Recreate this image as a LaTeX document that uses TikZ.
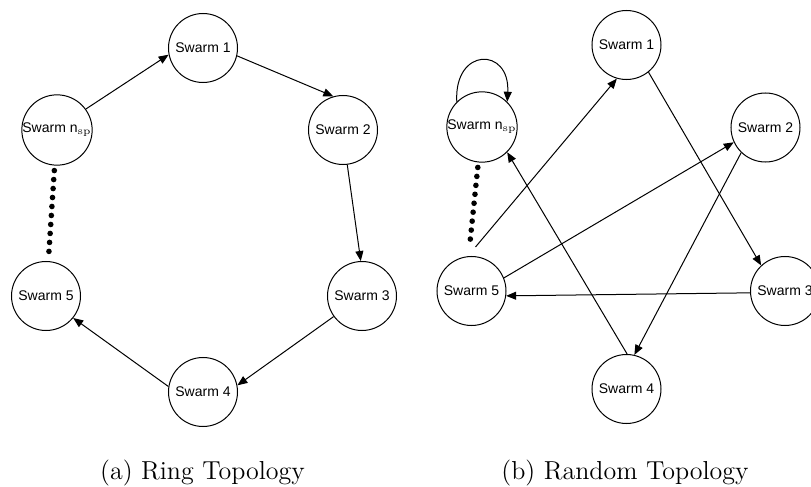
\documentclass[tikz,border=0pt]{standalone}
\usepackage{fontspec}
\newfontfamily\swarmfont{Liberation Sans}
\usetikzlibrary{arrows.meta,positioning,calc}

\begin{document}
\begin{tikzpicture}[x=0.5pt, y=-0.5pt,
    swarm/.style={circle,draw,line width=0.5pt,minimum size=34.5pt,inner sep=0pt,font=\swarmfont\fontsize{7}{8}\selectfont},
    link/.style={-{Triangle[length=5pt,width=4pt]},line width=0.5pt},
    dots/.style={line width=2.8pt,line cap=round,dash pattern=on 0pt off 4.5pt},
    caption/.style={anchor=base,font=\fontsize{13}{15}\selectfont}]
    \useasboundingbox (0,0) rectangle (811,487);

    % (a) Ring topology
    \node[swarm] (a1) at (203,48) {Swarm 1};
    \node[swarm] (a2) at (343,130) {Swarm 2};
    \node[swarm] (a3) at (362,296) {Swarm 3};
    \node[swarm] (a4) at (203,392) {Swarm 4};
    \node[swarm] (a5) at (46,296) {Swarm 5};
    \node[swarm] (an) at (57,130) {Swarm n$_{\mathrm{sp}}$};

    \draw[link] (an.36) -- (a1.191);
    \draw[link] (a1.347) -- (a2.106);
    \draw[link] (a2.277) -- (a3.92);
    \draw[link] (a3.216) -- (a4.11);
    \draw[link] (a4.171) -- (a5.321);
    \draw[dots, shorten <=2.5pt, shorten >=4.5pt] (an) -- (a5);

    % (b) Random topology
    \node[swarm] (b1) at (626.5,45) {Swarm 1};
    \node[swarm] (b2) at (765.5,127.5) {Swarm 2};
    \node[swarm] (b3) at (785,291) {Swarm 3};
    \node[swarm] (b4) at (626.5,389) {Swarm 4};
    \node[swarm] (b5) at (471.5,291) {Swarm 5};
    \node[swarm] (bn) at (482,127) {Swarm n$_{\mathrm{sp}}$};
    \coordinate (bd) at ($(b5.north)+(-2,-9)$);

    \draw[dots, shorten <=2.5pt] (bn) -- (bd);
    \draw[link] ([xshift=3pt]bd) -- (b1.254);
    \draw[link] (b5.22) -- (b2.205);
    \draw[link] (b1.309) -- (b3.133);
    \draw[link] (b2.226) -- (b4.77);
    \draw[link] (b3.183) -- (b5.352);
    \draw[link] (b4.89) -- (bn.315);
    \draw[link] (bn.135) .. controls +(-3,-55) and +(3,-55) .. (bn.45);

    % captions
    \node[caption] (capa) at (202.5,480) {(a) Ring Topology};
    \node[caption] (capb) at (625,480) {(b) Random Topology};
\end{tikzpicture}
\end{document}
